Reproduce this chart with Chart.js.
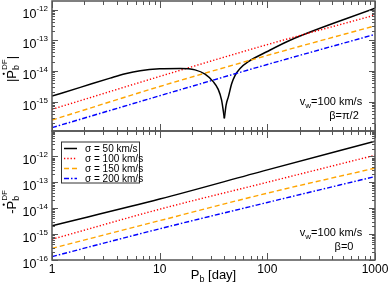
<!DOCTYPE html>
<html>
<head>
<meta charset="utf-8">
<script src="https://cdn.jsdelivr.net/npm/chart.js@4.4.1/dist/chart.umd.min.js"></script>
<style>
  html, body { margin: 0; padding: 0; background: #fff; }
  #wrap { position: relative; width: 390px; height: 292px; }
  canvas { position: absolute; left: 0; top: 0; }
</style>
</head>
<body>
<div id="wrap">
  <canvas id="upper" width="390" height="292"></canvas>
  <canvas id="lower" width="390" height="292"></canvas>
</div>
<script>
// ---- data ----
const periods = [1, 10, 100, 1000];               // P_b [day] for the straight lines
const xTickLabels = ["1", "10", "100", "1000"];
const legendLabels = ["σ = 50 km/s", "σ = 100 km/s", "σ = 150 km/s", "σ = 200 km/s"];

// upper panel, beta = pi/2 ; black curve split at the sign change
const upperBlackLeftP  = [1, 1.83, 3.47, 4.79, 6.59, 10, 15.5, 21.3, 26.4, 31.4, 34.9, 37.6, 39.9];
const upperBlackLeft   = [1.51e-15, 2.9e-15, 5.83e-15, 8.11e-15, 1.02e-14, 1.17e-14, 1.2e-14, 1.08e-14, 7.87e-15, 4.48e-15, 2.55e-15, 1.12e-15, 2.84e-16];
const upperBlackRightP = [39.9, 41.4, 43.5, 46.7, 50.2, 55.8, 66.7, 98.7, 162.7, 1000];
const upperBlackRight  = [2.84e-16, 7.7e-16, 1.45e-15, 3.9e-15, 7.2e-15, 1.2e-14, 2.0e-14, 4.2e-14, 1.0e-13, 1.10e-12];
const upperRed    = [5.6e-16, 6.6e-15, 7.2e-14, 6.6e-13];
const upperOrange = [2.5e-16, 3.1e-15, 3.2e-14, 2.95e-13];
const upperBlue   = [1.41e-16, 1.55e-15, 1.62e-14, 1.55e-13];

// lower panel, beta = 0
const lowerBlack  = [2.1e-15, 2.24e-14, 3.0e-13, 3.8e-12];
const lowerRed    = [6.3e-16, 9.1e-15, 1.0e-13, 1.1e-12];
const lowerOrange = [2.8e-16, 3.3e-15, 3.8e-14, 3.5e-13];
const lowerBlue   = [1.35e-16, 1.6e-15, 1.66e-14, 1.66e-13];

const upperRange = [1.1e-16, 1.9e-12];
const lowerRange = [1.0e-16, 9.5e-12];

const FONT = '"Liberation Sans", Arial, Helvetica, sans-serif';
const FRAME = "#555";

function xy(xs, ys){ return xs.map((v, i) => ({ x: v, y: ys[i] })); }

const STYLES = [
  { borderColor: "#000000", borderWidth: 1.5, borderDash: [] },
  { borderColor: "#ff0000", borderWidth: 1.4, borderDash: [1.3, 2] },
  { borderColor: "#ffa500", borderWidth: 1.4, borderDash: [5, 3] },
  { borderColor: "#0000ff", borderWidth: 1.4, borderDash: [5, 2, 1.5, 2] }
];

function sets(list){
  return list.map((d, i) => Object.assign(
    { label: legendLabels[i % 4], data: d, pointRadius: 0, tension: 0, cubicInterpolationMode: "monotone", fill: false },
    STYLES[i % 4]));
}

// draw text pieces along a baseline: [text, size, dy, stackWithNext, stacked]
function drawParts(ctx, parts, x, y, align){
  const widths = parts.map(p => { ctx.font = p[1] + "px " + FONT; return ctx.measureText(p[0]).width; });
  let w = 0;
  parts.forEach((p, i) => { if (!p[3]) w += p[4] ? Math.max(widths[i], widths[i - 1]) : widths[i]; });
  let cx = align === "center" ? x - w / 2 : (align === "right" ? x - w : x);
  const pos = [];
  parts.forEach((p, i) => {
    ctx.font = p[1] + "px " + FONT;
    ctx.fillText(p[0], cx, y + (p[2] || 0));
    pos.push({ x: cx, w: widths[i] });
    if (!p[3]) cx += p[4] ? Math.max(widths[i], widths[i - 1]) : widths[i];
  });
  return pos;
}

function seg(ctx, x1, y1, x2, y2){ ctx.moveTo(x1, y1); ctx.lineTo(x2, y2); }

const panelPlugin = {
  id: "panel",
  afterDatasetsDraw(chart, args, o){
    const { ctx, chartArea: a, scales: { x, y } } = chart;
    ctx.save();
    ctx.textBaseline = "alphabetic";
    ctx.fillStyle = "#000";

    // inward tick marks on all four sides
    ctx.strokeStyle = FRAME;
    ctx.lineWidth = 1;
    ctx.beginPath();
    for (let e = 0; e <= 3; e++){
      for (let m = 1; m <= 9; m++){
        const v = m * Math.pow(10, e);
        if (v > 1000) break;
        const px = Math.round(x.getPixelForValue(v)) + 0.5;
        const len = m === 1 ? 7 : 4;
        seg(ctx, px, a.bottom, px, a.bottom - len);
        seg(ctx, px, a.top, px, a.top + len);
      }
    }
    const e0 = Math.floor(Math.log10(y.min)), e1 = Math.ceil(Math.log10(y.max));
    const majors = [];
    for (let e = e0; e <= e1; e++){
      for (let m = 1; m <= 9; m++){
        const v = m * Math.pow(10, e);
        if (v < y.min * 0.999 || v > y.max * 1.001) continue;
        const py = Math.round(y.getPixelForValue(v)) + 0.5;
        const len = m === 1 ? 6 : 3;
        seg(ctx, a.left, py, a.left + len, py);
        seg(ctx, a.right, py, a.right - len, py);
        if (m === 1) majors.push({ e, py });
      }
    }
    ctx.stroke();

    // frame
    ctx.lineWidth = 1.5;
    ctx.strokeRect(a.left, a.top, a.right - a.left, a.bottom - a.top);

    // y tick labels 10^e
    majors.forEach(t => {
      drawParts(ctx, [["10", 12.5, 0], [String(t.e), 8, -7]], a.left - 4, t.py + 7.5, "right");
    });

    // x tick labels and title
    if (o.xLabels){
      ctx.font = "12px " + FONT;
      ctx.textAlign = "center";
      periods.forEach((p, i) => ctx.fillText(xTickLabels[i], x.getPixelForValue(p), a.bottom + 13));
      ctx.textAlign = "left";
      drawParts(ctx, [["P", 13, 0], ["b", 9, 3], [" [day]", 13, 0]], (a.left + a.right) / 2, 279, "center");
    }

    // y title (rotated), dot over P, b and DF stacked
    ctx.save();
    ctx.translate(16, o.titleY);
    ctx.rotate(-Math.PI / 2);
    const parts = [[o.abs ? "|" : "-", 13, 0], ["P", 13, 0], ["b", 9, 3, true], ["DF", 8, -9, false, true]];
    if (o.abs) parts.push(["|", 13, 0]);
    const tp = drawParts(ctx, parts, 0, 0, "center");
    ctx.beginPath();
    ctx.arc(tp[1].x + tp[1].w / 2 + 0.5, -12.3, 1.1, 0, Math.PI * 2);
    ctx.fill();
    ctx.restore();

    // annotation
    drawParts(ctx, [["v", 11, 0], ["w", 8, 3], ["=100 km/s", 11, 0]], 331, o.noteY, "center");
    drawParts(ctx, [[o.beta, 11, 0]], 344, o.noteY + 14, "center");

    // legend box
    if (o.legend){
      const bx = 61, by = 141.5, bw = 78, bh = 41;
      ctx.lineWidth = 1;
      ctx.strokeStyle = "#333";
      ctx.strokeRect(bx + 0.5, by + 0.5, bw, bh);
      chart.data.datasets.slice(0, 4).forEach((ds, i) => {
        const ry = by + 7 + i * 10;
        ctx.beginPath();
        ctx.strokeStyle = ds.borderColor;
        ctx.lineWidth = ds.borderWidth;
        ctx.setLineDash(ds.borderDash);
        ctx.moveTo(bx + 3, ry);
        ctx.lineTo(bx + 16, ry);
        ctx.stroke();
        ctx.setLineDash([]);
        ctx.font = "10px " + FONT;
        ctx.fillStyle = "#000";
        ctx.fillText(legendLabels[i], bx + 24, ry + 3.5);
      });
    }
    ctx.restore();
  }
};

function makeChart(id, datasets, range, area, panel){
  return new Chart(document.getElementById(id), {
    type: "line",
    data: { datasets },
    options: {
      responsive: false,
      animation: false,
      devicePixelRatio: 1,
      layout: { padding: { left: area.left, right: 390 - area.right, top: area.top, bottom: 292 - area.bottom } },
      plugins: { legend: { display: false }, tooltip: { enabled: false }, panel },
      scales: {
        x: { type: "logarithmic", min: 1, max: 1000, ticks: { display: false }, grid: { display: false }, border: { display: false }, afterFit: s => { s.height = 0; } },
        y: { type: "logarithmic", min: range[0], max: range[1], ticks: { display: false }, grid: { display: false }, border: { display: false }, afterFit: s => { s.width = 0; } }
      }
    },
    plugins: [panelPlugin]
  });
}

makeChart("upper",
  sets([xy(upperBlackLeftP, upperBlackLeft), xy(periods, upperRed), xy(periods, upperOrange), xy(periods, upperBlue), xy(upperBlackRightP, upperBlackRight)]),
  upperRange, { left: 52, right: 375, top: 1, bottom: 131 },
  { abs: true, titleY: 69, noteY: 105, beta: "β=π/2", xLabels: false, legend: false });

makeChart("lower",
  sets([xy(periods, lowerBlack), xy(periods, lowerRed), xy(periods, lowerOrange), xy(periods, lowerBlue)]),
  lowerRange, { left: 52, right: 375, top: 131, bottom: 260 },
  { abs: false, titleY: 202, noteY: 236, beta: "β=0", xLabels: true, legend: true });
</script>
</body>
</html>
